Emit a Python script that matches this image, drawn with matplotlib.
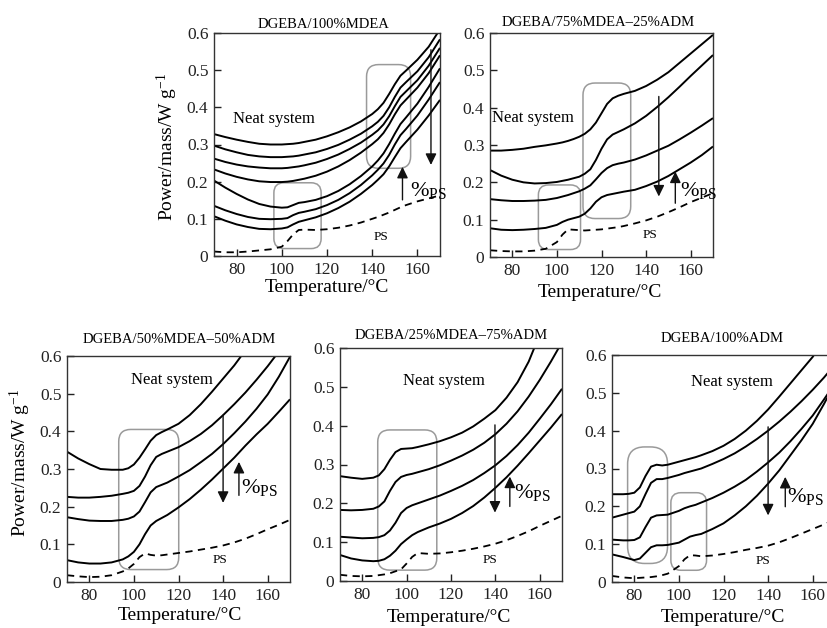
import matplotlib.pyplot as plt
from matplotlib.patches import FancyBboxPatch

plt.rcParams['font.family'] = 'Liberation Serif'
plt.rcParams['mathtext.fontset'] = 'custom'
plt.rcParams['mathtext.rm'] = 'Liberation Serif'
plt.rcParams['mathtext.it'] = 'Liberation Serif:italic'

# ---- DGEBA/100%MDEA ----
T1 = [70, 75, 80, 85, 90, 95, 100, 102.5, 105, 107.5, 110, 115, 120, 125, 130,
      135, 140, 142.5, 145, 147.5, 150, 152.5, 155, 160, 165, 170]
p1_curves = [
    [.328, .320, .313, .307, .302, .300, .300, .301, .302, .304, .307, .313, .322, .333, .346,
     .362, .382, .395, .412, .436, .462, .485, .499, .528, .563, .610],
    [.297, .287, .279, .272, .268, .266, .266, .267, .268, .270, .273, .279, .288, .299, .313,
     .329, .349, .361, .377, .400, .428, .453, .468, .497, .535, .583],
    [.262, .253, .246, .241, .238, .236, .236, .237, .239, .241, .244, .251, .261, .273, .288,
     .305, .326, .338, .354, .376, .403, .428, .443, .473, .512, .560],
    [.233, .222, .213, .206, .201, .199, .199, .200, .202, .205, .208, .216, .227, .241, .258,
     .278, .301, .314, .331, .354, .381, .405, .421, .453, .492, .540],
    [.203, .184, .167, .152, .140, .133, .130, .131, .137, .143, .145, .151, .161, .175, .193,
     .215, .241, .257, .276, .301, .329, .355, .373, .410, .455, .505],
    [.135, .123, .113, .105, .100, .099, .100, .102, .110, .116, .119, .126, .137, .151, .169,
     .191, .217, .232, .249, .272, .300, .325, .342, .378, .421, .468],
    [.107, .095, .085, .078, .073, .072, .074, .077, .085, .092, .096, .104, .115, .129, .146,
     .167, .191, .205, .220, .241, .266, .290, .307, .340, .378, .420],
]
p1_ps = [.012, .010, .010, .012, .015, .018, .025, .040, .058, .070, .071, .070, .072, .076, .082,
         .090, .100, .105, .111, .117, .124, .131, .137, .147, .155, .163]

# ---- DGEBA/75%MDEA-25%ADM ----
T2 = [70, 75, 80, 85, 90, 95, 100, 102.5, 105, 107.5, 110, 112.5, 115, 117.5, 120,
      122.5, 125, 127.5, 130, 135, 140, 145, 150, 155, 160, 165, 170]
p2_curves = [
    [.285, .285, .287, .290, .295, .299, .304, .307, .311, .316, .322, .330, .342, .360, .385,
     .410, .425, .432, .437, .445, .458, .475, .495, .520, .545, .570, .595],
    [.233, .218, .207, .200, .197, .198, .201, .204, .207, .211, .215, .223, .235, .260, .290,
     .315, .328, .335, .342, .358, .378, .402, .428, .456, .485, .513, .541],
    [.155, .152, .150, .150, .151, .153, .158, .162, .166, .171, .176, .183, .192, .208, .225,
     .238, .246, .250, .253, .261, .272, .285, .298, .315, .333, .352, .372],
    [.077, .073, .072, .073, .075, .078, .086, .094, .100, .104, .108, .116, .130, .148, .160,
     .166, .169, .172, .175, .180, .190, .202, .217, .235, .253, .273, .296],
]
p2_ps = [.018, .016, .015, .015, .017, .022, .040, .060, .074, .073, .072, .071, .072, .073, .074,
         .076, .078, .080, .083, .090, .098, .108, .120, .133, .147, .159, .171]

# ---- DGEBA/50%MDEA-50%ADM ----
T3 = [70, 75, 80, 85, 90, 95, 97.5, 100, 102.5, 105, 107.5, 110, 112.5, 115, 120,
      125, 130, 135, 140, 145, 150, 155, 160, 165, 170]
p3_curves = [
    [.346, .328, .313, .300, .298, .298, .302, .312, .330, .352, .375, .390, .398, .405, .420,
     .443, .472, .505, .540, .575, .615, .660, .710, .760, .810],
    [.226, .224, .224, .226, .229, .234, .237, .242, .255, .280, .310, .332, .340, .346, .358,
     .374, .393, .416, .443, .472, .503, .537, .573, .612, .655],
    [.172, .167, .163, .162, .162, .165, .168, .174, .187, .212, .238, .252, .258, .264, .280,
     .297, .318, .340, .366, .395, .426, .460, .498, .545, .598],
    [.058, .052, .049, .049, .052, .060, .068, .080, .100, .127, .150, .162, .170, .178, .198,
     .220, .245, .272, .301, .330, .362, .392, .420, .452, .485],
]
p3_ps = [.018, .015, .013, .014, .018, .028, .036, .048, .066, .076, .072, .070, .071, .073, .077,
         .081, .086, .091, .097, .105, .115, .127, .140, .152, .165]

# ---- DGEBA/25%MDEA-75%ADM ----
T4 = [70, 75, 80, 85, 87.5, 90, 92.5, 95, 97.5, 100, 102.5, 105, 110, 115, 120,
      125, 130, 135, 140, 145, 150, 155, 160, 165, 170]
p4_curves = [
    [.270, .266, .263, .266, .272, .288, .312, .332, .340, .341, .342, .345, .352, .360, .370,
     .382, .398, .418, .440, .472, .512, .565, .635, .710, .800],
    [.183, .182, .183, .186, .192, .205, .232, .255, .268, .273, .276, .280, .288, .298, .310,
     .323, .338, .356, .378, .405, .437, .475, .518, .565, .615],
    [.114, .112, .110, .111, .113, .118, .130, .150, .175, .188, .195, .200, .210, .220, .232,
     .245, .260, .278, .298, .322, .350, .382, .418, .455, .495],
    [.067, .058, .053, .051, .052, .056, .065, .078, .095, .107, .118, .126, .138, .148, .160,
     .175, .193, .215, .240, .267, .297, .329, .362, .395, .430],
]
p4_ps = [.016, .013, .012, .013, .015, .017, .020, .025, .030, .045, .062, .072, .070, .071, .074,
         .078, .083, .089, .096, .105, .116, .128, .142, .155, .168]

# ---- DGEBA/100%ADM ----
T5 = [70, 75, 77.5, 80, 82.5, 85, 87.5, 90, 92.5, 95, 100, 102.5, 105, 107.5, 110,
      115, 120, 125, 130, 135, 140, 145, 150, 155, 160, 165, 170]
p5_curves = [
    [.232, .232, .233, .236, .250, .280, .305, .310, .308, .310, .318, .322, .326, .330, .335,
     .346, .360, .378, .400, .426, .456, .490, .525, .560, .595, .640, .690],
    [.170, .178, .182, .186, .200, .232, .262, .272, .272, .275, .283, .288, .292, .296, .300,
     .312, .325, .340, .358, .378, .400, .424, .450, .478, .508, .540, .575],
    [.112, .110, .110, .111, .118, .145, .170, .176, .177, .178, .188, .195, .200, .204, .210,
     .222, .236, .252, .270, .292, .316, .342, .372, .405, .440, .482, .525],
    [.073, .066, .062, .058, .062, .077, .092, .097, .097, .098, .104, .112, .120, .124, .127,
     .140, .155, .176, .200, .228, .260, .295, .335, .375, .418, .470, .525],
]
p5_ps = [.016, .012, .011, .010, .011, .012, .013, .015, .018, .022, .042, .060, .071, .070, .068,
         .070, .074, .079, .085, .090, .096, .105, .116, .128, .140, .152, .165]

titles = ["DGEBA/100%MDEA", "DGEBA/75%MDEA–25%ADM", "DGEBA/50%MDEA–50%ADM",
          "DGEBA/25%MDEA–75%ADM", "DGEBA/100%ADM"]
yticks = [0, 0.1, 0.2, 0.3, 0.4, 0.5, 0.6]
ytick_labels = ["0", "0.1", "0.2", "0.3", "0.4", "0.5", "0.6"]
xticks = [80, 100, 120, 140, 160]

W, H = 827, 628
fig = plt.figure(figsize=(W / 100, H / 100), dpi=100)


def fx(px):
    return px / W


def fy(py):
    return 1 - py / H


def make_axes(l, r, t, b):
    ax = fig.add_axes([fx(l), fy(b), (r - l) / W, (b - t) / H])
    ax.set_xlim(70, 170)
    ax.set_ylim(0, 0.6)
    ax.set_xticks(xticks)
    ax.set_yticks(yticks)
    ax.set_yticklabels(ytick_labels)
    ax.tick_params(direction='in', length=5, width=1, labelsize=12.5,
                   colors='#222222', pad=4)
    for s in ax.spines.values():
        s.set_linewidth(1.0)
        s.set_color('#333333')
    ax.px = (r - l, b - t)
    return ax


def draw(ax, T, curves, ps):
    for c in curves:
        ax.plot(T, c, color='black', lw=1.4, solid_capstyle='butt')
    ax.plot(T, ps, color='black', lw=1.3, linestyle=(0, (4, 3)))


def rbox(ax, x0, x1, y0, y1, r_px):
    xpp = 100 / ax.px[0]
    ypp = 0.6 / ax.px[1]
    ax.add_patch(FancyBboxPatch((x0, y0), x1 - x0, y1 - y0,
                                boxstyle=f"round,pad=0,rounding_size={r_px * xpp}",
                                mutation_aspect=ypp / xpp, fc='none',
                                ec='#9a9a9a', lw=1.1))


def arrow(ax, x, y0, y1):
    ax.annotate("", xy=(x, y1), xytext=(x, y0),
                arrowprops=dict(arrowstyle="-|>,head_length=0.45,head_width=0.22",
                                color='#111111', lw=1.0, mutation_scale=15,
                                shrinkA=0, shrinkB=0))


def labels(ax, neat_xy, ps_xy, pct_xy, neat_ha='center'):
    ax.text(*neat_xy, "Neat system", fontsize=12, ha=neat_ha, va='center')
    ax.text(*ps_xy, "PS", fontsize=9.5, ha='center', va='center')
    ax.text(*pct_xy, r"%$_{\mathrm{PS}}$", fontsize=16, ha='left', va='center')


axes_px = [(214, 440, 33, 256), (490, 713, 33, 257), (67, 290, 356, 582),
           (340, 562, 348, 581), (612, 835, 355, 582)]
title_px = [(324, 25), (598, 23), (179, 339), (451, 335), (722, 338)]
xlabel_px = [(327, 288), (600, 293), (180, 615), (449, 617), (723, 617)]
data = [(T1, p1_curves, p1_ps), (T2, p2_curves, p2_ps), (T3, p3_curves, p3_ps),
        (T4, p4_curves, p4_ps), (T5, p5_curves, p5_ps)]

axs = []
for geo, (T, cs, ps), title, tp, xp in zip(axes_px, data, titles, title_px, xlabel_px):
    ax = make_axes(*geo)
    draw(ax, T, cs, ps)
    fig.text(fx(tp[0]), fy(tp[1]), title, fontsize=10.5, ha='center', va='center')
    fig.text(fx(xp[0]), fy(xp[1]), "Temperature/°C", fontsize=14, ha='center', va='center')
    axs.append(ax)

for x, y in [(167, 147), (20, 463)]:
    fig.text(fx(x), fy(y), r"Power/mass/W g$^{-1}$", fontsize=14, rotation=90,
             ha='center', va='center')

a1, a2, a3, a4, a5 = axs

# 100% MDEA
rbox(a1, 96.5, 117.4, 0.02, 0.197, 10)
rbox(a1, 137.5, 157.0, 0.236, 0.515, 12)
arrow(a1, 166.0, 0.555, 0.245)
arrow(a1, 153.4, 0.151, 0.24)
labels(a1, (96.5, 0.368), (143.8, 0.052), (156.6, 0.175))

# 75% MDEA - 25% ADM
rbox(a2, 91.7, 110.6, 0.02, 0.193, 10)
rbox(a2, 111.7, 133.1, 0.103, 0.466, 12)
arrow(a2, 145.7, 0.43, 0.162)
arrow(a2, 153.1, 0.144, 0.229)
labels(a2, (89.3, 0.372), (141.9, 0.059), (155.2, 0.177))

# 50% MDEA - 50% ADM
rbox(a3, 93.2, 120.1, 0.033, 0.405, 12)
arrow(a3, 140.0, 0.443, 0.21)
arrow(a3, 147.1, 0.23, 0.319)
labels(a3, (117.0, 0.536), (138.4, 0.059), (147.9, 0.25))

# 25% MDEA - 75% ADM
rbox(a4, 87.0, 113.6, 0.028, 0.389, 12)
arrow(a4, 139.8, 0.402, 0.176)
arrow(a4, 146.5, 0.192, 0.269)
labels(a4, (117.0, 0.514), (137.4, 0.054), (148.5, 0.227))

# 100% ADM
rbox(a5, 77.0, 94.9, 0.049, 0.357, 17)
rbox(a5, 96.4, 112.4, 0.031, 0.236, 10)
arrow(a5, 140.0, 0.41, 0.176)
arrow(a5, 147.7, 0.199, 0.278)
labels(a5, (123.6, 0.529), (137.7, 0.056), (148.5, 0.227))

fig.savefig("out.png", dpi=100)
